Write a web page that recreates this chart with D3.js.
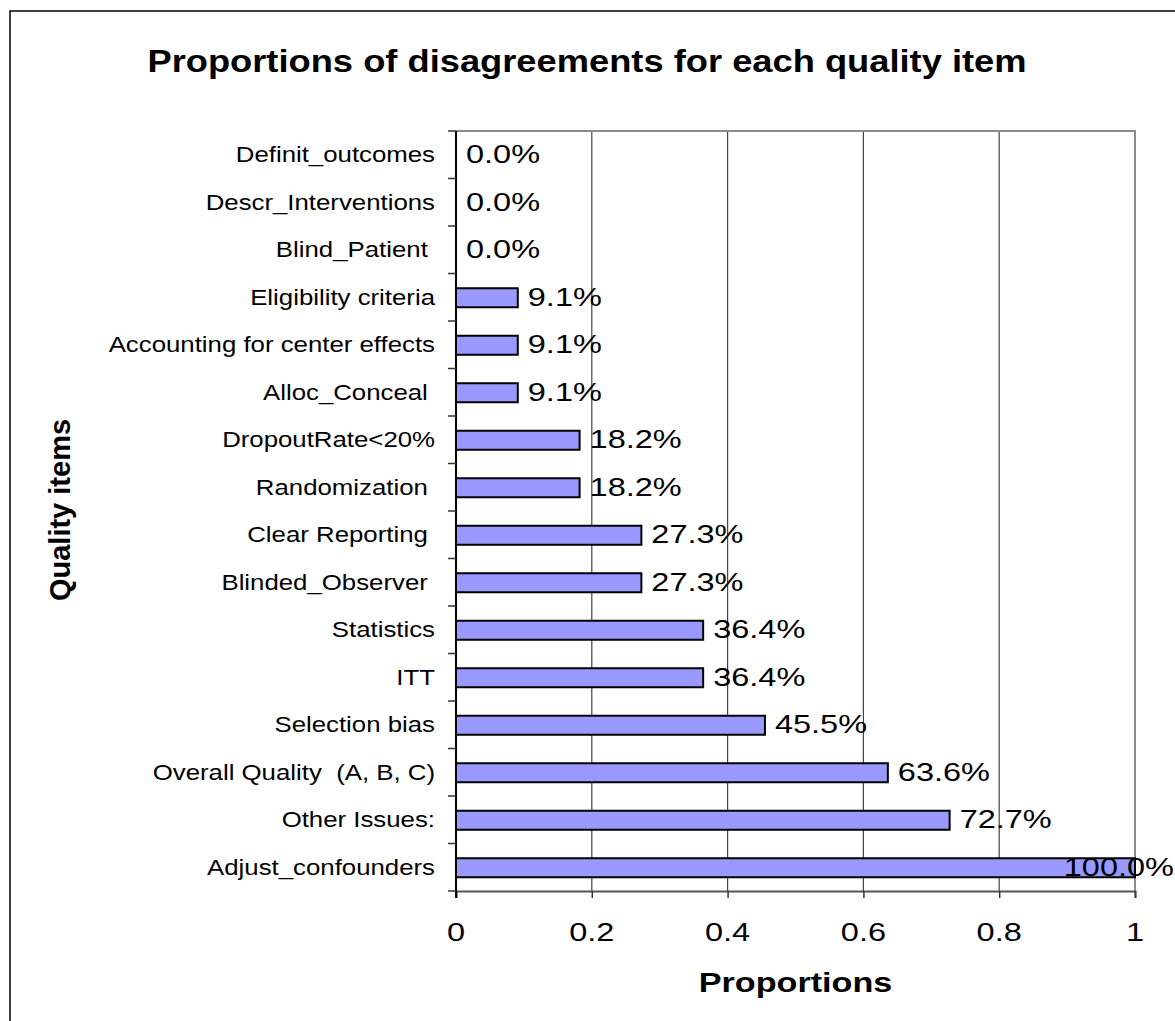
<!DOCTYPE html>
<html>
<head>
<meta charset="utf-8">
<script src="https://cdn.jsdelivr.net/npm/d3@7"></script>
<style>
  html, body { margin: 0; padding: 0; background: #fff; }
  svg { display: block; }
  text { font-family: Arial, "Liberation Sans", sans-serif; fill: #000; white-space: pre; }
</style>
</head>
<body>
<svg id="chart" width="1175" height="1021"></svg>
<script>
// Quality items, top to bottom, and the share of disagreements for each
const categories = [
  "Definit_outcomes",
  "Descr_Interventions",
  "Blind_Patient ",
  "Eligibility criteria",
  "Accounting for center effects",
  "Alloc_Conceal ",
  "DropoutRate<20%",
  "Randomization ",
  "Clear Reporting ",
  "Blinded_Observer ",
  "Statistics",
  "ITT",
  "Selection bias",
  "Overall Quality  (A, B, C)",
  "Other Issues:",
  "Adjust_confounders"
];
const proportions = [
  0.0, 0.0, 0.0, 0.091, 0.091, 0.091, 0.182, 0.182,
  0.273, 0.273, 0.364, 0.364, 0.455, 0.636, 0.727, 1.0
];
const xTicks = [0, 0.2, 0.4, 0.6, 0.8, 1];
const titleText = "Proportions of disagreements for each quality item";
const xTitle = "Proportions";
const yTitle = "Quality items";

const W = 1175;
const svg = d3.select("#chart");
const plot = { left: 456, top: 131, right: 1135, bottom: 891 };

const x = d3.scaleLinear().domain([0, 1]).range([plot.left, plot.right]);
const y = d3.scaleBand().domain(categories).range([plot.top, plot.bottom]).padding(0);
const bw = y.bandwidth();
const barH = bw * 0.4;

// Horizontally widened text, anchored at (px, py)
function label(g, str, px, py, opts) {
  const o = Object.assign({ size: 20, weight: "normal", anchor: "start", sx: 1.15 }, opts || {});
  return g.append("text")
    .attr("transform", `translate(${px},${py}) scale(${o.sx},1)`)
    .attr("text-anchor", o.anchor)
    .attr("font-size", o.size)
    .attr("font-weight", o.weight)
    .text(str);
}

// Outer chart frame
svg.append("rect")
  .attr("x", 10).attr("y", 11)
  .attr("width", 1300).attr("height", 1200)
  .attr("fill", "#fff").attr("stroke", "#000").attr("stroke-width", 1.5);

// Title
label(svg, titleText, 587, 72, { size: 30.5, weight: "bold", anchor: "middle", sx: 1.19 });

// Vertical gridlines
svg.append("g").selectAll("line")
  .data(xTicks.filter(d => d > 0 && d < 1))
  .join("line")
  .attr("x1", d => x(d)).attr("x2", d => x(d))
  .attr("y1", plot.top).attr("y2", plot.bottom)
  .attr("stroke", "#444").attr("stroke-width", 1.2);

// Plot area border (top and right)
svg.append("path")
  .attr("d", `M${plot.left},${plot.top}H${plot.right}V${plot.bottom}`)
  .attr("fill", "none").attr("stroke", "#8c8c8c").attr("stroke-width", 2);

// Bars
svg.append("g").selectAll("rect")
  .data(categories.map((c, i) => ({ c, v: proportions[i] })).filter(d => d.v > 0))
  .join("rect")
  .attr("x", x(0))
  .attr("y", d => y(d.c) + (bw - barH) / 2 + 0.5)
  .attr("width", d => x(d.v) - x(0))
  .attr("height", barH)
  .attr("fill", "#9999ff")
  .attr("stroke", "#000")
  .attr("stroke-width", 2);

// Bottom axis
const fmtTick = d => (d === 0 || d === 1) ? String(d) : d3.format(".1f")(d);
const xAxis = d3.axisBottom(x).tickValues(xTicks).tickSize(7).tickFormat(fmtTick);
const gx = svg.append("g").attr("transform", `translate(0,${plot.bottom})`).call(xAxis);
gx.select(".domain").attr("stroke", "#555").attr("stroke-width", 2);
gx.selectAll(".tick line").attr("stroke", "#333").attr("stroke-width", 1.5);
gx.selectAll(".tick text").remove();
xTicks.forEach(t => {
  label(svg, fmtTick(t), x(t), 941, { size: 26, anchor: "middle", sx: 1.25 });
});

// Left axis with ticks between categories
const gy = svg.append("g");
gy.append("line")
  .attr("x1", plot.left).attr("x2", plot.left)
  .attr("y1", plot.top).attr("y2", plot.bottom + 7)
  .attr("stroke", "#000").attr("stroke-width", 2);
const bounds = categories.map(c => y(c)).concat([plot.bottom]);
gy.selectAll("line.tk")
  .data(bounds)
  .join("line")
  .attr("class", "tk")
  .attr("x1", plot.left - 8).attr("x2", plot.left)
  .attr("y1", d => d).attr("y2", d => d)
  .attr("stroke", "#333").attr("stroke-width", 1.5);

// Category labels
categories.forEach(c => {
  label(svg, c, 435, y(c) + bw / 2 + 7.5, { size: 21.5, anchor: "end", sx: 1.2 });
});

// Value labels; a label that would run past the right edge is pulled back inside
categories.forEach((c, i) => {
  const v = proportions[i];
  const t = label(svg, d3.format(".1%")(v), x(v) + 10, y(c) + bw / 2 + 8.5, { size: 26, sx: 1.25 });
  const w = t.node().getComputedTextLength() * 1.25;
  if (x(v) + 10 + w > W - 1) {
    t.attr("transform", `translate(${W - 1 - w},${y(c) + bw / 2 + 8.5}) scale(1.25,1)`);
  }
});

// Axis titles
label(svg, xTitle, (plot.left + plot.right) / 2, 992, { size: 28, weight: "bold", anchor: "middle", sx: 1.22 });
svg.append("text")
  .attr("transform", `translate(70,510) rotate(-90)`)
  .attr("text-anchor", "middle")
  .attr("font-size", 29)
  .attr("font-weight", "bold")
  .text(yTitle);
</script>
</body>
</html>
